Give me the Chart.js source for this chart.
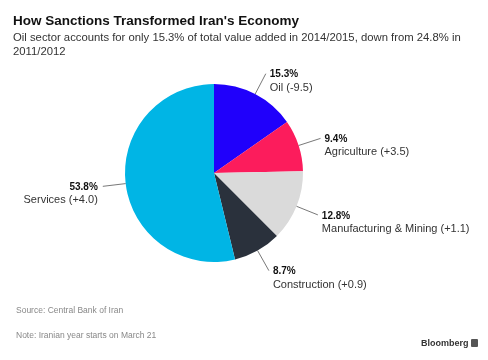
<!DOCTYPE html>
<html>
<head>
<meta charset="utf-8">
<script src="https://cdn.jsdelivr.net/npm/chart.js@4"></script>
<style>
  html, body { margin: 0; padding: 0; background: #fff; }
  #wrap { position: relative; width: 488px; height: 360px; overflow: hidden; }
  canvas { position: absolute; left: 0; top: 0; }
  .t { position: absolute; white-space: nowrap; font-family: "Liberation Sans", Arial, sans-serif; }
  #title { left: 13px; top: 13px; font-size: 13.5px; font-weight: bold; color: #111; }
  #sub { left: 13px; top: 30px; font-size: 11.3px; color: #333; line-height: 14px; }
  #src { left: 16px; top: 305px; font-size: 8.5px; color: #888; }
  #note { left: 16px; top: 330px; font-size: 8.5px; color: #888; }
  #bb { left: 421px; top: 338px; font-size: 9px; font-weight: bold; color: #333; }
  #bbi { position: absolute; left: 471px; top: 339px; width: 7px; height: 8px; background: #555; border-radius: 1px; }
</style>
</head>
<body>
<div id="wrap">
  <canvas id="c" width="488" height="360"></canvas>
  <div class="t" id="title">How Sanctions Transformed Iran's Economy</div>
  <div class="t" id="sub">Oil sector accounts for only 15.3% of total value added in 2014/2015, down from 24.8% in<br>2011/2012</div>
  <div class="t" id="src">Source: Central Bank of Iran</div>
  <div class="t" id="note">Note: Iranian year starts on March 21</div>
  <div class="t" id="bb">Bloomberg</div>
  <div id="bbi"></div>
</div>
<script>
const categories = ["Oil", "Agriculture", "Manufacturing & Mining", "Construction", "Services"];
const shares = [15.3, 9.4, 12.8, 8.7, 53.8];
const changes = ["-9.5", "+3.5", "+1.1", "+0.9", "+4.0"];
const colors = ["#2000fb", "#fc1c5c", "#dadada", "#2a313c", "#00b5e5"];

const labelPlugin = {
  id: "sliceLabels",
  afterDatasetsDraw(chart) {
    const ctx = chart.ctx;
    const meta = chart.getDatasetMeta(0);
    meta.data.forEach((arc, i) => {
      const p = arc.getProps(["x", "y", "startAngle", "endAngle", "outerRadius"], true);
      const mid = (p.startAngle + p.endAngle) / 2;
      const cos = Math.cos(mid), sin = Math.sin(mid);
      const x0 = p.x + cos * p.outerRadius, y0 = p.y + sin * p.outerRadius;
      const x1 = p.x + cos * (p.outerRadius + 23), y1 = p.y + sin * (p.outerRadius + 23);
      ctx.save();
      ctx.strokeStyle = "#555";
      ctx.lineWidth = 0.8;
      ctx.beginPath();
      ctx.moveTo(x0, y0);
      ctx.lineTo(x1, y1);
      ctx.stroke();
      const right = cos >= 0;
      const tx = right ? x1 + 4 : x1 - 5;
      ctx.textAlign = right ? "left" : "right";
      ctx.textBaseline = "middle";
      ctx.fillStyle = "#111";
      ctx.font = "bold 10px 'Liberation Sans', Arial, sans-serif";
      ctx.fillText(shares[i].toFixed(1) + "%", tx, y1 + 1);
      ctx.fillStyle = "#333";
      ctx.font = "11px 'Liberation Sans', Arial, sans-serif";
      ctx.fillText(categories[i] + " (" + changes[i] + ")", tx, y1 + 14);
      ctx.restore();
    });
  }
};

new Chart(document.getElementById("c"), {
  type: "pie",
  data: {
    labels: categories,
    datasets: [{ data: shares, backgroundColor: colors, borderWidth: 0 }]
  },
  options: {
    responsive: false,
    animation: false,
    layout: { padding: { left: 125, right: 185, top: 84, bottom: 98 } },
    plugins: { legend: { display: false }, tooltip: { enabled: false } }
  },
  plugins: [labelPlugin]
});
</script>
</body>
</html>
